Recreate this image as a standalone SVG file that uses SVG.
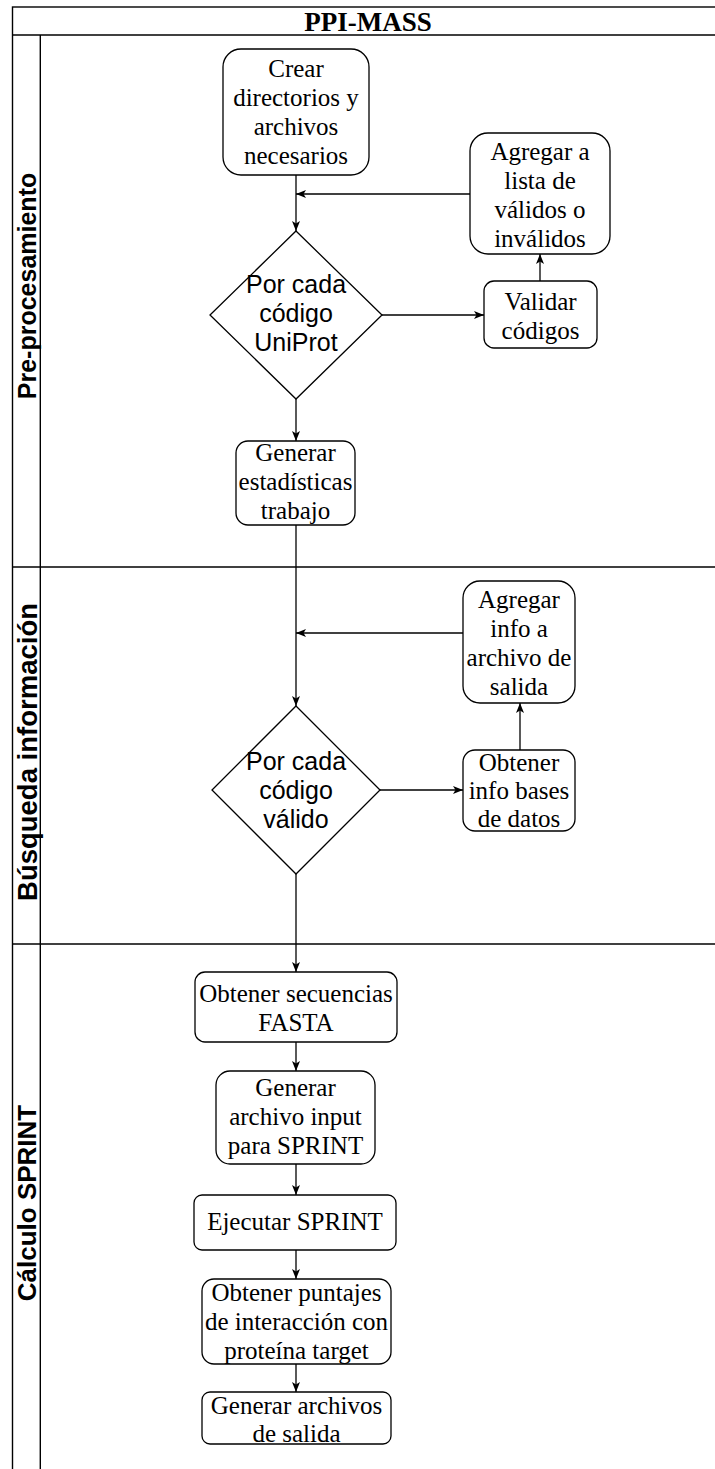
<svg xmlns="http://www.w3.org/2000/svg" width="715" height="1469" viewBox="0 0 715 1469">
<style>
.frame{fill:none;stroke:#000;stroke-width:1.4}
.node{fill:#fff;stroke:#000;stroke-width:1.3}
.t{font-family:"Liberation Serif","Times New Roman",serif;font-size:25px;fill:#000;text-anchor:middle}
.s{font-family:"Liberation Sans",Arial,sans-serif;font-size:25px;fill:#000;text-anchor:middle}
.lane{font-family:"Liberation Sans",Arial,sans-serif;font-weight:bold;fill:#000;text-anchor:middle}
.title{font-family:"Liberation Serif","Times New Roman",serif;font-size:27px;font-weight:bold;fill:#000;text-anchor:middle}
.edge{fill:none;stroke:#000;stroke-width:1.3;marker-end:url(#arr)}
</style>
<defs>
<marker id="arr" viewBox="0 0 10 8" refX="10" refY="4" markerWidth="10" markerHeight="8" orient="auto" markerUnits="userSpaceOnUse">
<path d="M0,0 L10,4 L0,8 L2.5,4 Z" fill="#000"/>
</marker>
</defs>
<rect width="715" height="1469" fill="#fff"/>
<g id="pool">
<rect class="frame" x="12.5" y="7" width="711" height="1470"/>
<line class="frame" x1="12.5" y1="35" x2="723.5" y2="35"/>
<line class="frame" x1="40.3" y1="35" x2="40.3" y2="1477"/>
<line class="frame" x1="12.5" y1="567" x2="723.5" y2="567"/>
<line class="frame" x1="12.5" y1="944" x2="723.5" y2="944"/>
<text class="title" x="368" y="31">PPI-MASS</text>
</g>
<g id="lane1"><text class="lane" font-size="25" transform="translate(36,286) rotate(-90)">Pre-procesamiento</text></g>
<g id="lane2"><text class="lane" font-size="27.5" transform="translate(37,752) rotate(-90)">Búsqueda información</text></g>
<g id="lane3"><text class="lane" font-size="26" transform="translate(36,1203) rotate(-90)">Cálculo SPRINT</text></g>
<g id="connectors">
<line class="edge" x1="296" y1="175" x2="296" y2="231"/>
<line class="edge" x1="470" y1="194" x2="296" y2="194"/>
<line class="edge" x1="382" y1="315" x2="484" y2="315"/>
<line class="edge" x1="540" y1="281" x2="540" y2="254"/>
<line class="edge" x1="296" y1="399" x2="296" y2="441"/>
<line class="edge" x1="296" y1="525" x2="296" y2="706"/>
<line class="edge" x1="463" y1="633" x2="296" y2="633"/>
<line class="edge" x1="380" y1="790" x2="463" y2="790"/>
<line class="edge" x1="520" y1="750" x2="520" y2="703"/>
<line class="edge" x1="296" y1="874" x2="296" y2="972"/>
<line class="edge" x1="296" y1="1042" x2="296" y2="1071"/>
<line class="edge" x1="296" y1="1164" x2="296" y2="1195"/>
<line class="edge" x1="296" y1="1250" x2="296" y2="1279"/>
<line class="edge" x1="296" y1="1364" x2="296" y2="1392"/>
</g>
<g id="crear">
<rect class="node" x="223" y="49" width="146" height="126" rx="18"/>
<text class="t" x="296" y="77">Crear</text>
<text class="t" x="296" y="106">directorios y</text>
<text class="t" x="296" y="135">archivos</text>
<text class="t" x="296" y="164">necesarios</text>
</g>
<g id="agregar-lista">
<rect class="node" x="470" y="133" width="140" height="121" rx="18"/>
<text class="t" x="540" y="160">Agregar a</text>
<text class="t" x="540" y="189">lista de</text>
<text class="t" x="540" y="218">válidos o</text>
<text class="t" x="540" y="247">inválidos</text>
</g>
<g id="por-cada-uniprot">
<polygon class="node" points="296,231 382,315 296,399 210,315"/>
<text class="s" x="296" y="293">Por cada</text>
<text class="s" x="296" y="322">código</text>
<text class="s" x="296" y="351">UniProt</text>
</g>
<g id="validar">
<rect class="node" x="484" y="281" width="113" height="67" rx="10"/>
<text class="t" x="540.5" y="310">Validar</text>
<text class="t" x="540.5" y="339">códigos</text>
</g>
<g id="estadisticas">
<rect class="node" x="236" y="441" width="119" height="84" rx="12"/>
<text class="t" x="295.5" y="461">Generar</text>
<text class="t" x="295.5" y="490">estadísticas</text>
<text class="t" x="295.5" y="519">trabajo</text>
</g>
<g id="agregar-info">
<rect class="node" x="463" y="581" width="112" height="122" rx="17"/>
<text class="t" x="519" y="608">Agregar</text>
<text class="t" x="519" y="637">info a</text>
<text class="t" x="519" y="666">archivo de</text>
<text class="t" x="519" y="695">salida</text>
</g>
<g id="por-cada-valido">
<polygon class="node" points="296,706 380,790 296,874 212,790"/>
<text class="s" x="296" y="770">Por cada</text>
<text class="s" x="296" y="799">código</text>
<text class="s" x="296" y="828">válido</text>
</g>
<g id="obtener-info">
<rect class="node" x="463" y="750" width="112" height="81" rx="12"/>
<text class="t" x="519" y="771">Obtener</text>
<text class="t" x="519" y="799">info bases</text>
<text class="t" x="519" y="827">de datos</text>
</g>
<g id="fasta">
<rect class="node" x="195" y="972" width="202" height="70" rx="10"/>
<text class="t" x="296" y="1002">Obtener secuencias</text>
<text class="t" x="296" y="1031">FASTA</text>
</g>
<g id="input-sprint">
<rect class="node" x="216" y="1071" width="159" height="93" rx="14"/>
<text class="t" x="295.5" y="1096">Generar</text>
<text class="t" x="295.5" y="1125">archivo input</text>
<text class="t" x="295.5" y="1154">para SPRINT</text>
</g>
<g id="ejecutar">
<rect class="node" x="194" y="1195" width="202" height="55" rx="8"/>
<text class="t" x="295" y="1230">Ejecutar SPRINT</text>
</g>
<g id="puntajes">
<rect class="node" x="202" y="1279" width="189" height="85" rx="12"/>
<text class="t" x="296.5" y="1301">Obtener puntajes</text>
<text class="t" x="296.5" y="1330">de interacción con</text>
<text class="t" x="296.5" y="1359">proteína target</text>
</g>
<g id="archivos-salida">
<rect class="node" x="202" y="1392" width="189" height="52" rx="8"/>
<text class="t" x="296.5" y="1414">Generar archivos</text>
<text class="t" x="296.5" y="1442">de salida</text>
</g>
</svg>
